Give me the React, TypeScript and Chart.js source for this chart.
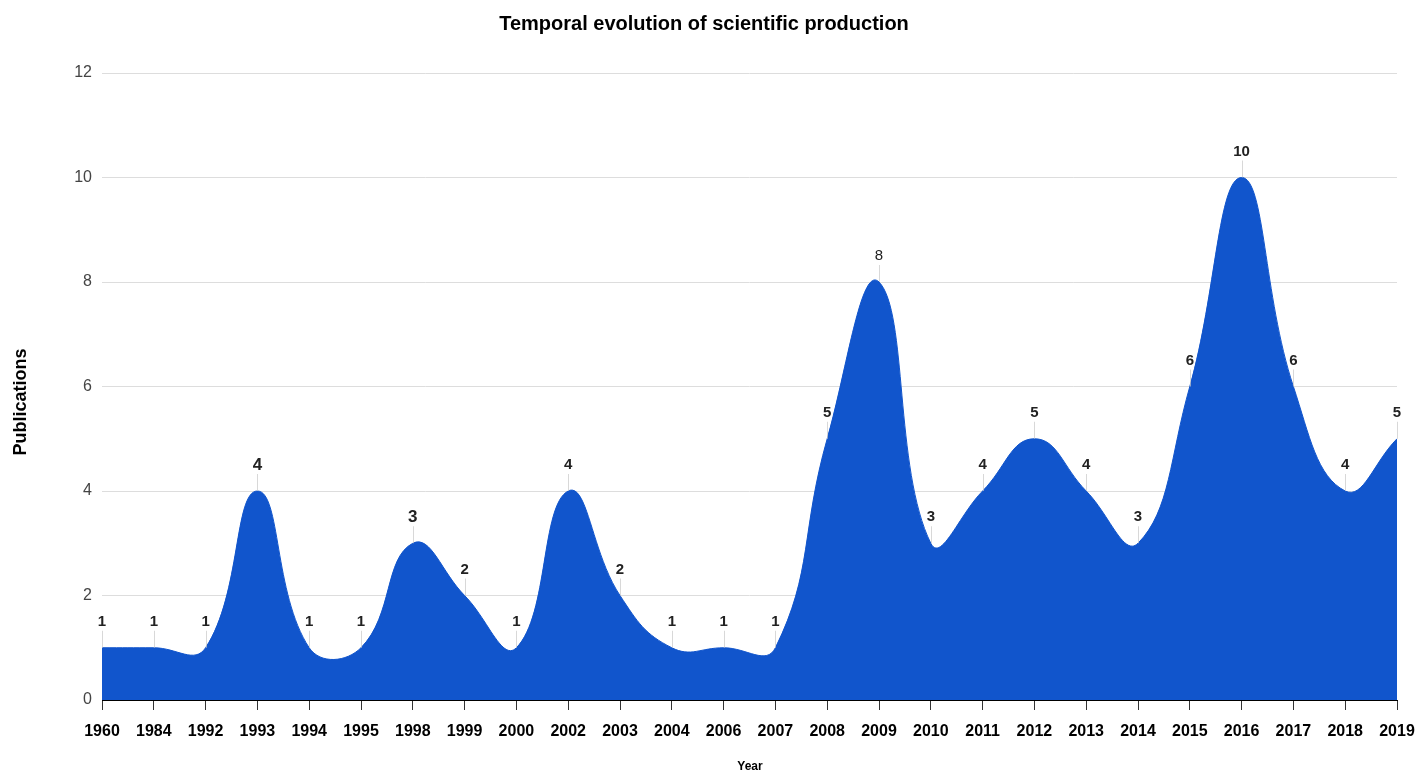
import React, { useEffect, useRef } from "react";
import { Chart, registerables } from "chart.js";

Chart.register(...registerables);

const years = ["1960","1984","1992","1993","1994","1995","1998","1999","2000","2002","2003","2004","2006","2007","2008","2009","2010","2011","2012","2013","2014","2015","2016","2017","2018","2019"];
const publications = [1,1,1,4,1,1,3,2,1,4,2,1,1,1,5,8,3,4,5,4,3,6,10,6,4,5];
const yTicks = [0, 2, 4, 6, 8, 10, 12];

const FONT = "'Liberation Sans', Arial, sans-serif";

const labelPlugin = {
  id: "pointLabels",
  afterDatasetsDraw(chart: any) {
    const ctx = chart.ctx;
    const meta = chart.getDatasetMeta(0);
    ctx.save();
    meta.data.forEach((pt: any, i: number) => {
      const x = pt.x;
      const y = pt.y;
      ctx.strokeStyle = "rgba(200,200,200,0.7)";
      ctx.lineWidth = 1;
      ctx.beginPath();
      ctx.moveTo(Math.round(x) + 0.5, y);
      ctx.lineTo(Math.round(x) + 0.5, y - 17);
      ctx.stroke();
      const v = publications[i];
      const big = i === 3 || i === 6;
      ctx.font = (v === 8 ? "normal " : "bold ") + (big ? "17px " : "15px ") + FONT;
      ctx.fillStyle = "#222";
      ctx.textAlign = "center";
      ctx.textBaseline = "middle";
      ctx.fillText(String(v), x, y - 26);
    });
    ctx.restore();
  },
  afterDraw(chart: any) {
    const ctx = chart.ctx;
    ctx.save();
    ctx.fillStyle = "#000";
    ctx.textAlign = "center";
    ctx.textBaseline = "middle";
    ctx.font = "bold 20px " + FONT;
    ctx.fillText("Temporal evolution of scientific production", 704, 24);
    ctx.font = "bold 12px " + FONT;
    ctx.fillText("Year", 750, 767);
    ctx.translate(21, 402);
    ctx.rotate(-Math.PI / 2);
    ctx.font = "bold 18px " + FONT;
    ctx.fillText("Publications", 0, 0);
    ctx.restore();
  },
};

export default function App() {
  const ref = useRef<HTMLCanvasElement>(null);
  useEffect(() => {
    document.body.style.margin = "0";
    const chart = new Chart(ref.current!, {
      type: "line",
      data: {
        labels: years,
        datasets: [
          {
            data: publications,
            fill: "origin",
            backgroundColor: "#1155cc",
            borderColor: "#1155cc",
            borderWidth: 1,
            tension: 0.45,
            pointRadius: 0,
          },
        ],
      },
      options: {
        animation: false,
        responsive: false,
        layout: { padding: { top: 73, right: 20, left: 0, bottom: 0 } },
        plugins: { legend: { display: false }, tooltip: { enabled: false }, title: { display: false } },
        scales: {
          x: {
            offset: false,
            grid: { display: true, drawOnChartArea: false, drawTicks: true, tickLength: 10, color: "#333" },
            border: { display: true, color: "#000", width: 1 },
            ticks: { font: { family: FONT, size: 16, weight: "bold" }, color: "#000", padding: 12, maxRotation: 0, autoSkip: false },
            afterFit: (s: any) => { s.height = 72; s.paddingLeft = 0; s.paddingRight = 0; },
          },
          y: {
            min: 0,
            max: 12,
            afterBuildTicks: (s: any) => { s.ticks = yTicks.map((v) => ({ value: v })); },
            grid: { color: "#dddddd", drawTicks: false },
            border: { display: false },
            ticks: { font: { family: FONT, size: 16 }, color: "#444", padding: 10 },
            afterFit: (s: any) => { s.width = 102; s.paddingTop = 0; s.paddingBottom = 0; },
          },
        },
      },
      plugins: [labelPlugin],
    } as any);
    return () => chart.destroy();
  }, []);
  return (
    <div style={{ position: "relative", width: 1417, height: 772 }}>
      <canvas ref={ref} width={1417} height={772} style={{ display: "block" }} />
    </div>
  );
}
